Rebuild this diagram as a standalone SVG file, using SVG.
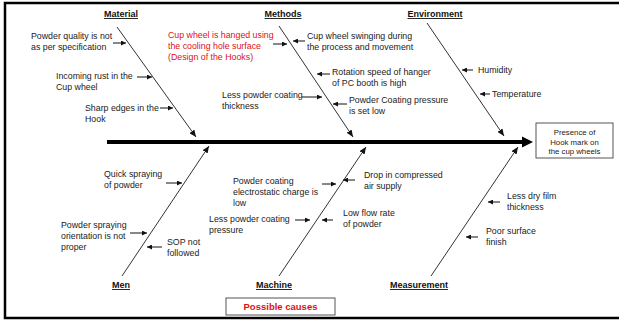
<svg xmlns="http://www.w3.org/2000/svg" width="619" height="320" viewBox="0 0 619 320">
<style>
.t{font-family:"Liberation Sans",Arial,sans-serif;font-size:8.8px;fill:#222}
.r{fill:#e01010}
.h{font-family:"Liberation Sans",Arial,sans-serif;font-size:9px;font-weight:bold;fill:#111;text-decoration:underline;text-anchor:middle}
.e{font-family:"Liberation Sans",Arial,sans-serif;font-size:7.8px;fill:#222;text-anchor:middle}
.pc{font-family:"Liberation Sans",Arial,sans-serif;font-size:9.5px;font-weight:bold;fill:#e01010;text-anchor:middle}
.bone{stroke:#333;stroke-width:1;fill:none;marker-end:url(#bh)}
.ca{stroke:#111;stroke-width:1;fill:none;marker-end:url(#ah)}
.box{fill:#fff;stroke:#555;stroke-width:1}
</style>
<defs>
<marker id="bh" markerUnits="userSpaceOnUse" markerWidth="7" markerHeight="6" refX="7" refY="3" orient="auto"><path d="M0,0 L7,3 L0,6 z" fill="#111"/></marker>
<marker id="ah" markerUnits="userSpaceOnUse" markerWidth="5" markerHeight="5" refX="5" refY="2.5" orient="auto"><path d="M0,0 L5,2.5 L0,5 z" fill="#111"/></marker>
</defs>
<rect x="0" y="0" width="619" height="320" fill="#fff"/>
<rect x="5" y="3" width="700" height="315" fill="none" stroke="#000" stroke-width="2.5"/>

<g id="connectors">
<line x1="107" y1="142" x2="523" y2="142" stroke="#000" stroke-width="4"/>
<polygon points="522,136.5 533,142 522,147.5" fill="#000"/>
<line class="bone" x1="117" y1="27" x2="196" y2="137"/>
<line class="bone" x1="279" y1="26" x2="353" y2="137"/>
<line class="bone" x1="427" y1="23" x2="504" y2="136"/>
<line class="bone" x1="122" y1="276" x2="209" y2="146"/>
<line class="bone" x1="279" y1="276" x2="366" y2="147"/>
<line class="bone" x1="431" y1="276" x2="518" y2="147"/>
<line class="ca" x1="113" y1="43" x2="126" y2="43"/>
<line class="ca" x1="137" y1="77" x2="152" y2="77"/>
<line class="ca" x1="160" y1="108" x2="173" y2="108"/>
<line class="ca" x1="273" y1="44" x2="287" y2="44"/>
<line class="ca" x1="305" y1="41" x2="293" y2="41"/>
<line class="ca" x1="330" y1="74" x2="317" y2="74"/>
<line class="ca" x1="302" y1="97" x2="322" y2="97"/>
<line class="ca" x1="347" y1="104" x2="333" y2="104"/>
<line class="ca" x1="473" y1="70" x2="462" y2="70"/>
<line class="ca" x1="490" y1="94" x2="480" y2="94"/>
<line class="ca" x1="166" y1="183" x2="182" y2="183"/>
<line class="ca" x1="130" y1="233" x2="147" y2="233"/>
<line class="ca" x1="162" y1="247" x2="147" y2="247"/>
<line class="ca" x1="322" y1="184" x2="336" y2="184"/>
<line class="ca" x1="355" y1="180" x2="343" y2="180"/>
<line class="ca" x1="295" y1="220" x2="310" y2="220"/>
<line class="ca" x1="333" y1="220" x2="322" y2="220"/>
<line class="ca" x1="500" y1="202" x2="488" y2="202"/>
<line class="ca" x1="478" y1="237" x2="466" y2="237"/>
</g>

<g id="effect">
<rect class="box" x="536" y="123" width="77" height="35"/>
<text class="e" x="574.5" y="135">Presence of</text>
<text class="e" x="574.5" y="144.5">Hook mark on</text>
<text class="e" x="574.5" y="154">the cup wheels</text>
</g>

<g id="material"><text class="h" x="121" y="17">Material</text></g>
<g id="methods"><text class="h" x="283" y="17">Methods</text></g>
<g id="environment"><text class="h" x="435" y="17">Environment</text></g>
<g id="men"><text class="h" x="121" y="288">Men</text></g>
<g id="machine"><text class="h" x="274" y="288">Machine</text></g>
<g id="measurement"><text class="h" x="419" y="288">Measurement</text></g>

<g id="possible-causes">
<rect class="box" x="226" y="298" width="109" height="17"/>
<text class="pc" x="280.5" y="310">Possible causes</text>
</g>

<g id="c-powder-quality"><text class="t" x="31" y="39">Powder quality is not</text><text class="t" x="31" y="50">as per specification</text></g>
<g id="c-incoming-rust"><text class="t" x="56" y="79">Incoming rust in the</text><text class="t" x="56" y="90">Cup wheel</text></g>
<g id="c-sharp-edges"><text class="t" x="85" y="111">Sharp edges in the</text><text class="t" x="85" y="122">Hook</text></g>

<g id="c-cup-hanged"><text class="t r" x="168" y="38">Cup wheel is hanged using</text><text class="t r" x="168" y="49">the cooling hole surface</text><text class="t r" x="168" y="60">(Design of the Hooks)</text></g>
<g id="c-swinging"><text class="t" x="307" y="39">Cup wheel swinging during</text><text class="t" x="307" y="50">the process and movement</text></g>
<g id="c-rotation"><text class="t" x="332" y="75">Rotation speed of hanger</text><text class="t" x="332" y="86">of PC booth is high</text></g>
<g id="c-less-thickness"><text class="t" x="222" y="98">Less powder coating</text><text class="t" x="222" y="109">thickness</text></g>
<g id="c-pressure-low"><text class="t" x="349" y="103">Powder Coating pressure</text><text class="t" x="349" y="114">is set low</text></g>

<g id="c-humidity"><text class="t" x="478" y="73">Humidity</text></g>
<g id="c-temperature"><text class="t" x="492" y="97">Temperature</text></g>

<g id="c-quick-spraying"><text class="t" x="104" y="177">Quick spraying</text><text class="t" x="104" y="188">of powder</text></g>
<g id="c-orientation"><text class="t" x="61" y="228">Powder spraying</text><text class="t" x="61" y="239">orientation is not</text><text class="t" x="61" y="250">proper</text></g>
<g id="c-sop"><text class="t" x="167" y="245">SOP not</text><text class="t" x="167" y="256">followed</text></g>

<g id="c-electrostatic"><text class="t" x="233" y="184">Powder coating</text><text class="t" x="233" y="195">electrostatic charge is</text><text class="t" x="233" y="206">low</text></g>
<g id="c-compressed-air"><text class="t" x="364" y="178">Drop in compressed</text><text class="t" x="364" y="189">air supply</text></g>
<g id="c-less-pressure"><text class="t" x="209" y="222">Less powder coating</text><text class="t" x="209" y="233">pressure</text></g>
<g id="c-low-flow"><text class="t" x="343" y="216">Low flow rate</text><text class="t" x="343" y="227">of powder</text></g>

<g id="c-dry-film"><text class="t" x="507" y="199">Less dry film</text><text class="t" x="507" y="210">thickness</text></g>
<g id="c-surface"><text class="t" x="486" y="234">Poor surface</text><text class="t" x="486" y="245">finish</text></g>
</svg>
